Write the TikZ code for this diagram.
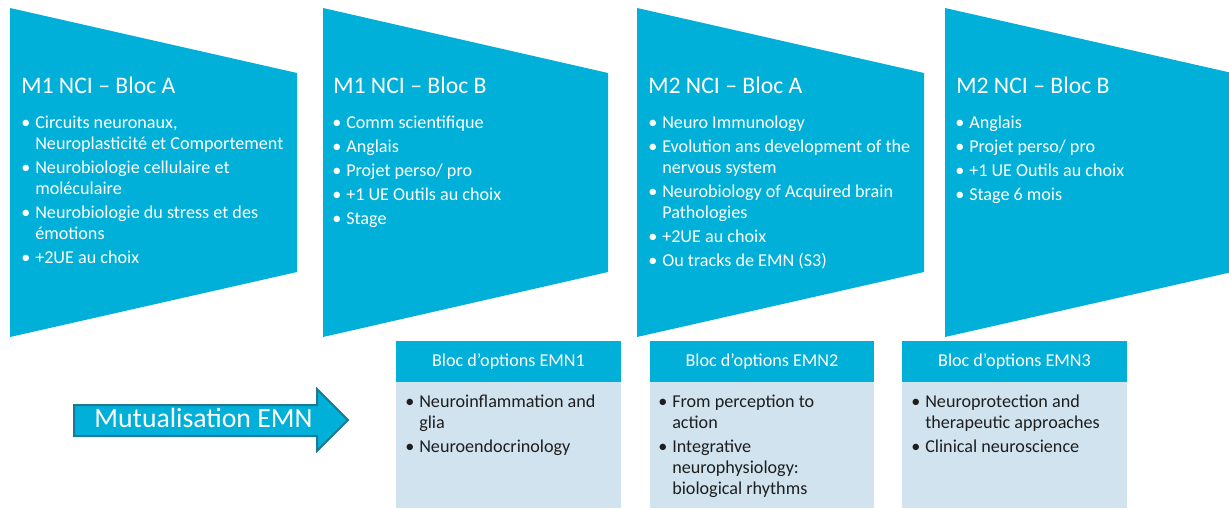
\documentclass[tikz,border=0pt]{standalone}
\usepackage{fontspec}
\setmainfont{Carlito}
\definecolor{cy}{RGB}{0,176,216}
\definecolor{lb}{RGB}{208,227,238}
\definecolor{arrowedge}{RGB}{27,122,147}
\definecolor{bodytxt}{RGB}{30,30,30}
\newcommand{\bitem}{\textbullet}
\tikzset{
  panel/.style={fill=cy, draw=none},
  ttl/.style={anchor=base west, inner sep=0pt, text=white, font=\fontsize{17.8}{21}\selectfont},
  lst/.style={anchor=base west, inner sep=0pt, text=white, font=\fontsize{13.6}{15.75}\selectfont},
  hdr/.style={fill=cy, draw=none},
  bodybox/.style={fill=lb, draw=none},
  hdrtxt/.style={anchor=center, inner sep=0pt, text=white, font=\fontsize{13.6}{16}\selectfont},
  blst/.style={anchor=base west, inner sep=0pt, text=bodytxt, font=\fontsize{13.6}{15.75}\selectfont},
  bigarrow/.style={fill=cy, draw=arrowedge, line width=1.5pt, line join=miter},
  arrtxt/.style={anchor=base, inner sep=0pt, text=white, font=\fontsize{20.8}{24}\selectfont}
}
\begin{document}
\begin{tikzpicture}[x=0.75pt,y=-0.75pt]
\useasboundingbox (0,0) rectangle (1229,508);

% top panels
\path[panel] (10,8) -- (297,73) -- (297,272) -- (10,337) -- cycle;
\path[panel] (323,8) -- (608,73) -- (608,272) -- (323,337) -- cycle;
\path[panel] (637,8) -- (924,73) -- (924,272) -- (637,337) -- cycle;
\path[panel] (945,8) -- (1229,72.3) -- (1229,272.7) -- (945,337) -- cycle;

\node[ttl] (t1) at (21,93) {M1 NCI – Bloc A};
\node[ttl] (t2) at (333,93) {M1 NCI – Bloc B};
\node[ttl] (t3) at (648,93) {M2 NCI – Bloc A};
\node[ttl] (t4) at (956,93) {M2 NCI – Bloc B};

\node[lst] (l1) at (21,128) {\begin{tabular}[t]{@{}p{10.5pt}@{}l@{}}
\bitem & Circuits neuronaux,\\
 & Neuroplasticité et Comportement\\[2.25pt]
\bitem & Neurobiologie cellulaire et\\
 & moléculaire\\[2.25pt]
\bitem & Neurobiologie du stress et des\\
 & émotions\\[2.25pt]
\bitem & +2UE au choix
\end{tabular}};

\node[lst] (l2) at (332,128) {\begin{tabular}[t]{@{}p{10.5pt}@{}l@{}}
\bitem & Comm scientifique\\[2.25pt]
\bitem & Anglais\\[2.25pt]
\bitem & Projet perso/ pro\\[2.25pt]
\bitem & +1 UE Outils au choix\\[2.25pt]
\bitem & Stage
\end{tabular}};

\node[lst] (l3) at (648,128) {\begin{tabular}[t]{@{}p{10.5pt}@{}l@{}}
\bitem & Neuro Immunology\\[2.25pt]
\bitem & Evolution ans development of the\\
 & nervous system\\[2.25pt]
\bitem & Neurobiology of Acquired brain\\
 & Pathologies\\[2.25pt]
\bitem & +2UE au choix\\[2.25pt]
\bitem & Ou tracks de EMN (S3)
\end{tabular}};

\node[lst] (l4) at (955,128) {\begin{tabular}[t]{@{}p{10.5pt}@{}l@{}}
\bitem & Anglais\\[2.25pt]
\bitem & Projet perso/ pro\\[2.25pt]
\bitem & +1 UE Outils au choix\\[2.25pt]
\bitem & Stage 6 mois
\end{tabular}};

% option boxes
\path[bodybox] (396,382) rectangle (621,508);
\path[hdr] (396,341) rectangle (621,382);
\path[bodybox] (650,382) rectangle (874,508);
\path[hdr] (650,341) rectangle (874,382);
\path[bodybox] (902,382) rectangle (1127,508);
\path[hdr] (902,341) rectangle (1127,382);

\node[hdrtxt] (h1) at (508.5,362) {Bloc d’options EMN1};
\node[hdrtxt] (h2) at (762,362) {Bloc d’options EMN2};
\node[hdrtxt] (h3) at (1014.5,362) {Bloc d’options EMN3};

\node[blst] (b1) at (405,407) {\begin{tabular}[t]{@{}p{10.5pt}@{}l@{}}
\bitem & Neuroinflammation and\\
 & glia\\[2.25pt]
\bitem & Neuroendocrinology
\end{tabular}};
\node[blst] (b2) at (658,407) {\begin{tabular}[t]{@{}p{10.5pt}@{}l@{}}
\bitem & From perception to\\
 & action\\[2.25pt]
\bitem & Integrative\\
 & neurophysiology:\\
 & biological rhythms
\end{tabular}};
\node[blst] (b3) at (911,407) {\begin{tabular}[t]{@{}p{10.5pt}@{}l@{}}
\bitem & Neuroprotection and\\
 & therapeutic approaches\\[2.25pt]
\bitem & Clinical neuroscience
\end{tabular}};

% arrow
\draw[bigarrow] (74,405) -- (317,405) -- (317,389) -- (348,420) -- (317,451) -- (317,436) -- (74,436) -- cycle;
\node[arrtxt] (mut) at (203.5,427) {Mutualisation EMN};
\end{tikzpicture}
\end{document}
